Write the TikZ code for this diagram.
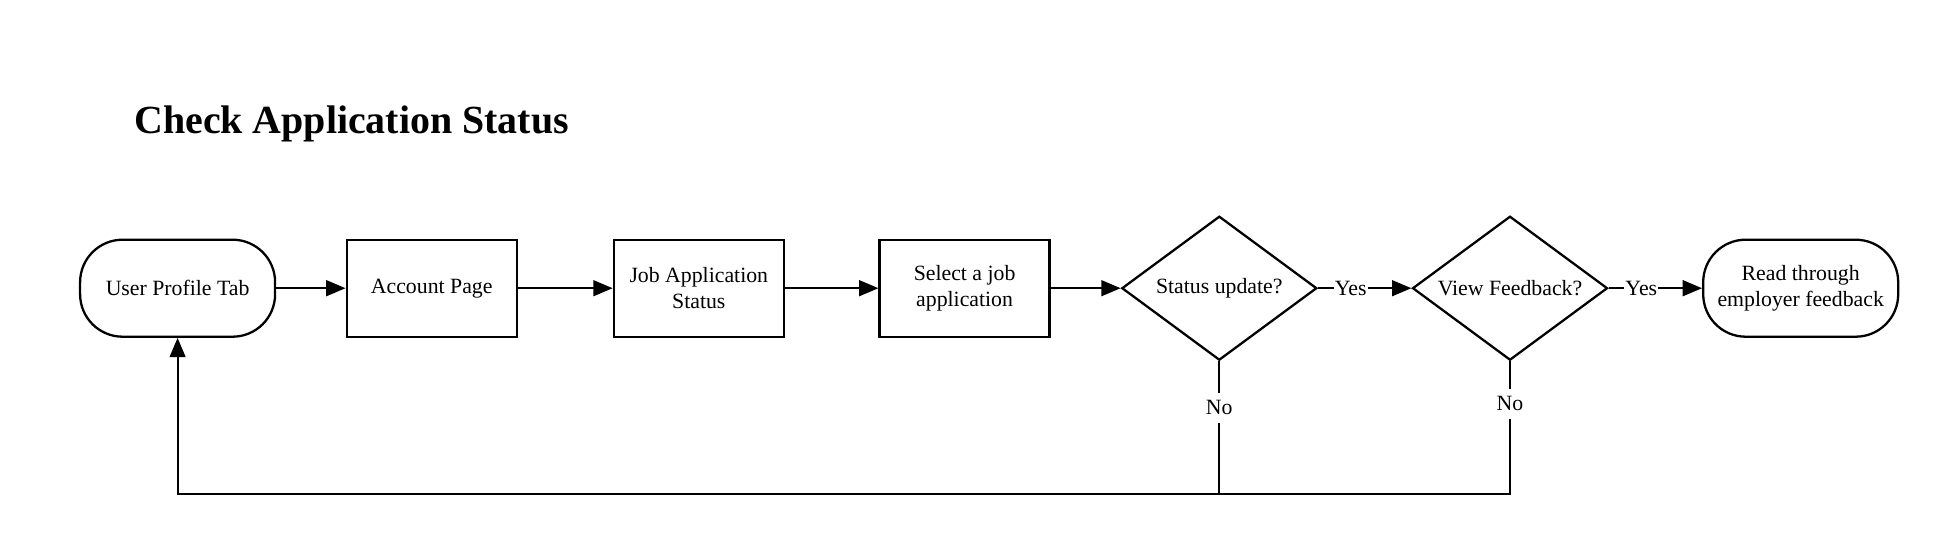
\documentclass[tikz,border=0pt]{standalone}
\usepackage{fontspec}
\setmainfont{Liberation Serif}
\usetikzlibrary{shapes.geometric,arrows.meta}
\begin{document}
\begin{tikzpicture}[
  every node/.style={font=\fontsize{12.4}{14.8}\selectfont, align=center},
  box/.style={draw, line width=1.3pt, minimum width=3.4cm, minimum height=1.94cm, inner sep=0pt},
  term/.style={draw, line width=1.3pt, rounded corners=0.85cm, minimum width=3.9cm, minimum height=1.94cm, inner sep=0pt},
  decision/.style={draw, diamond, line width=1.3pt, minimum width=3.9cm, minimum height=2.88cm, inner sep=0pt},
  flow/.style={line width=1.1pt, -{Triangle[length=11pt,width=9pt]}},
  lab/.style={fill=white, inner sep=0.6pt},
  nolab/.style={fill=white, inner xsep=1pt, inner ysep=4.5pt}
]
\useasboundingbox (0,0) rectangle (38.96,-10.88);
\node[anchor=base west, inner sep=0pt, font=\bfseries\fontsize{22.7}{26}\selectfont] (title) at (2.68,-2.665) {Check Application Status};
% main row
\node[term] (upt) at (3.552,-5.764) {User Profile Tab};
\node[box] (acc) at (8.634,-5.764) {Account Page};
\node[box] (jas) at (13.976,-5.764) {Job Application\\Status};
\node[box] (sel) at (19.292,-5.764) {Select a job\\application};
\node[decision] (su) at (24.386,-5.764) {\makebox[0pt]{Status update?}};
\node[decision] (vf) at (30.2,-5.764) {\makebox[0pt]{View Feedback?}};
\node[term] (read) at (36.014,-5.764) {Read through\\employer feedback};
\coordinate (loop) at (0,-9.888);
\draw[flow] (upt) -- (acc);
\draw[flow] (acc) -- (jas);
\draw[flow] (jas) -- (sel);
\draw[flow] (sel) -- (su);
\draw[flow] (su) -- node[lab, pos=0.35] {Yes} (vf);
\draw[flow] (vf) -- node[lab, pos=0.35] {Yes} (read);
% back to the profile tab
\draw[line width=1.1pt] (su.south) -- node[nolab, pos=0.35] {No} (su.south |- loop);
\draw[line width=1.1pt] (vf.south) -- node[nolab, pos=0.32] {No} (vf.south |- loop) -- (su.south |- loop);
\draw[flow] (su.south |- loop) -| (upt.south);
\end{tikzpicture}
\end{document}
